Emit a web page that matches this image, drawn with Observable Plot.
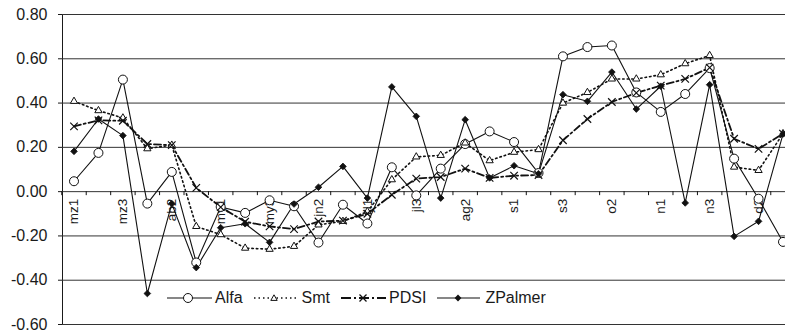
<!DOCTYPE html>
<html><head><meta charset="utf-8">
<script src="https://cdn.jsdelivr.net/npm/d3@7"></script>
<script src="https://cdn.jsdelivr.net/npm/@observablehq/plot@0.6"></script>
<style>
body{margin:0;background:#fff;overflow:hidden}
#wrap{position:relative;width:785px;height:335px;font-family:"Liberation Sans",Arial,sans-serif}
#legend{position:absolute;left:167px;top:289px;display:flex;align-items:center;font-size:16px;color:#1a1a1a}
.item{display:flex;align-items:center;margin-right:11px}
.item svg{display:block}
.item span{margin-left:3px;line-height:18px}
</style></head><body><div id="wrap"></div>
<script>
const categories = ["mz1","mz2","mz3","ab1","ab2","ab3","my1","my2","my3","jn1","jn2","jn3","jl1","jl2","jl3","ag1","ag2","ag3","s1","s2","s3","o1","o2","o3","n1","n2","n3","d1","d2","d3"];
const alfa = [0.047,0.175,0.506,-0.054,0.089,-0.32,-0.069,-0.096,-0.039,-0.066,-0.23,-0.059,-0.144,0.11,-0.017,0.104,0.215,0.272,0.224,0.084,0.611,0.653,0.66,0.448,0.36,0.441,0.558,0.149,-0.032,-0.227];
const smt = [0.408,0.366,0.333,0.194,0.21,-0.157,-0.194,-0.255,-0.26,-0.247,-0.15,-0.134,-0.09,0.054,0.157,0.164,0.22,0.14,0.178,0.19,0.4,0.448,0.509,0.509,0.528,0.578,0.615,0.111,0.096,0.262];
const pdsi = [0.295,0.322,0.32,0.215,0.21,0.017,-0.07,-0.136,-0.157,-0.169,-0.135,-0.131,-0.1,-0.014,0.059,0.066,0.104,0.062,0.072,0.075,0.232,0.328,0.405,0.446,0.479,0.509,0.56,0.239,0.193,0.262];
const zpalmer = [0.182,0.328,0.253,-0.46,-0.054,-0.343,-0.163,-0.145,-0.229,-0.056,0.02,0.114,-0.029,0.473,0.34,-0.029,0.325,0.062,0.117,0.081,0.438,0.408,0.54,0.373,0.476,-0.051,0.483,-0.202,-0.134,0.26];
const yTicks = [-0.6,-0.4,-0.2,0,0.2,0.4,0.6,0.8];
const seriesNames = ["Alfa","Smt","PDSI","ZPalmer"];

const rows = categories.map((c,i)=>({cat:c, i, alfa:alfa[i], smt:smt[i], pdsi:pdsi[i], zpalmer:zpalmer[i]}));
const labelRows = rows.filter(d=>d.i%2===0);
const xRange = [73.5, 782.5];
const halfStep = (xRange[1]-xRange[0])/(categories.length-1)/2;
const ink = "#111";

const chart = Plot.plot({
  width:785, height:335,
  marginLeft:62, marginRight:0, marginTop:14, marginBottom:11,
  style:{fontFamily:'"Liberation Sans",Arial,sans-serif', fontSize:"16px", color:"#1a1a1a", background:"#fff"},
  x:{type:"point", domain:categories, range:xRange, padding:0, round:false, axis:null},
  y:{domain:[-0.6,0.8], ticks:yTicks, tickFormat:d=>d.toFixed(2), tickSize:4, tickPadding:11, label:null, line:true},
  marks:[
    Plot.ruleY(yTicks,{stroke:"#333", strokeWidth:1}),
    Plot.ruleX(rows,{x:"cat", y1:()=>0, y2:()=>0, dx:-halfStep, insetBottom:-4, stroke:ink}),
    Plot.text(labelRows,{x:"cat", y:()=>0, text:"cat", rotate:-90, textAnchor:"end", dy:7, fontSize:13.5, fill:"#1a1a1a"}),
    Plot.line(rows,{x:"cat", y:"alfa", stroke:ink, strokeWidth:1.1}),
    Plot.line(rows,{x:"cat", y:"smt", stroke:ink, strokeWidth:1.6, strokeDasharray:"1.5,3"}),
    Plot.line(rows,{x:"cat", y:"pdsi", stroke:ink, strokeWidth:1.8, strokeDasharray:"7,3,2,3"}),
    Plot.line(rows,{x:"cat", y:"zpalmer", stroke:ink, strokeWidth:1.1}),
    Plot.dot(rows,{x:"cat", y:"alfa", r:4.5, fill:"#fff", stroke:ink, strokeWidth:1}),
    Plot.dot(rows,{x:"cat", y:"smt", symbol:"triangle", r:2.7, fill:"#fff", stroke:ink, strokeWidth:1}),
    Plot.dot(rows,{x:"cat", y:"pdsi", symbol:"times", r:3.5, stroke:ink, strokeWidth:1.2}),
    Plot.dot(rows,{x:"cat", y:"zpalmer", symbol:"diamond2", r:3, fill:ink, stroke:ink, strokeWidth:0.8})
  ]
});
const wrap = document.getElementById("wrap");
wrap.appendChild(chart);

// legend
const legend = document.createElement("div");
legend.id = "legend";
const sw = {
  Alfa:`<line x1="0" x2="45" y1="9" y2="9" stroke="${ink}" stroke-width="1.1"/><circle cx="21" cy="9" r="4.5" fill="#fff" stroke="${ink}"/>`,
  Smt:`<line x1="0" x2="45" y1="9" y2="9" stroke="${ink}" stroke-width="1.6" stroke-dasharray="1.5,3"/><path d="M20,5.8L23.2,11.4H16.8Z" fill="#fff" stroke="${ink}"/>`,
  PDSI:`<line x1="0" x2="45" y1="9" y2="9" stroke="${ink}" stroke-width="1.8" stroke-dasharray="10,3,2,3"/><path d="M18.5,5.5L25.5,12.5M25.5,5.5L18.5,12.5" stroke="${ink}" stroke-width="1.3"/>`,
  ZPalmer:`<line x1="0" x2="43" y1="9" y2="9" stroke="${ink}" stroke-width="1.1"/><path d="M21,5.6L24.4,9L21,12.4L17.6,9Z" fill="${ink}"/>`
};
seriesNames.forEach(n=>{
  const it = document.createElement("div");
  it.className = "item";
  it.innerHTML = `<svg width="45" height="18">${sw[n]}</svg><span>${n}</span>`;
  legend.appendChild(it);
});
wrap.appendChild(legend);
</script></body></html>
